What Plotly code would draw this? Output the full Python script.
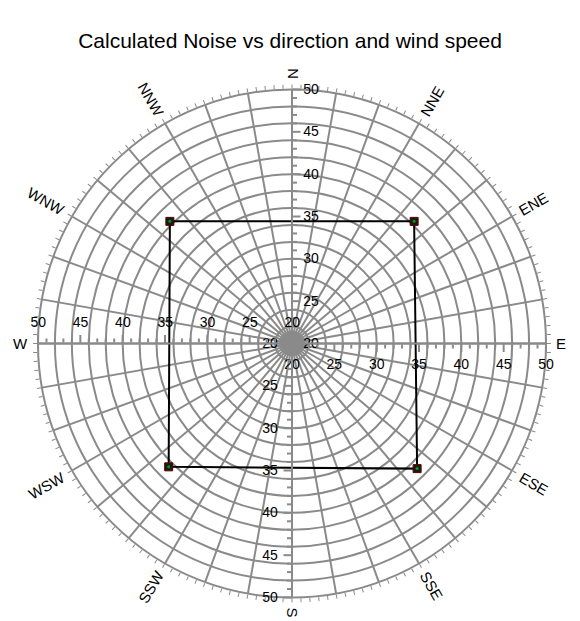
import math
import plotly.graph_objects as go

# ---------------- data ----------------
title_text = "Calculated Noise vs direction and wind speed"
directions = ["N", "NNE", "ENE", "E", "ESE", "SSE", "S", "SSW", "WSW", "W", "WNW", "NNW"]
direction_angles = [0, 30, 60, 90, 120, 150, 180, 210, 240, 270, 300, 330]
noise_theta = [45, 135, 225, 315, 45]
noise_r = [40.4, 40.9, 40.6, 40.4, 40.4]
r_min, r_max = 20, 50
ring_values = list(range(22, 51, 2))
minor_ticks = [v for v in range(20, 51) if v % 5 != 0]
major_ticks = list(range(20, 51, 5))
major_labels = [str(v) for v in major_ticks]
spoke_angles = list(range(0, 360, 10))
angular_ticks = list(range(0, 360, 2))
axis_angles = [90, 0, 270, 180]   # N, E, S, W radial axes

# ---------------- geometry ----------------
OFF = 8                      # page body margin in the browser
W, H = 580 - OFF, 621 - OFF  # figure size so it ends at the window edge
cx, cy, R = 292 - OFF, 343.5 - OFF, 254
GRID = "#8a8a8a"
FONT = "Liberation Sans, Arial, sans-serif"
# label nudges (px) per axis angle to match the reference label placement
label_nudge = {90: (0, 0), 0: (0, 0), 270: (0, 0), 180: (8, -5)}


def domain(dx=0.0, dy=0.0):
    x0, y0 = cx + dx, cy + dy
    return dict(x=[(x0 - R) / W, (x0 + R) / W],
                y=[1 - (y0 + R) / H, 1 - (y0 - R) / H])


fig = go.Figure()

# spokes
sr, st = [], []
for a in spoke_angles:
    sr += [r_min, r_max, None]
    st += [a, a, None]
fig.add_trace(go.Scatterpolar(r=sr, theta=st, mode="lines",
                              line=dict(color=GRID, width=2),
                              hoverinfo="skip", showlegend=False, subplot="polar"))

# central dense hub
hub_theta = list(range(0, 361, 5))
fig.add_trace(go.Scatterpolar(r=[21.45] * len(hub_theta), theta=hub_theta, mode="lines",
                              fill="toself", fillcolor=GRID, line=dict(color=GRID, width=1),
                              hoverinfo="skip", showlegend=False, subplot="polar"))

# data
fig.add_trace(go.Scatterpolar(r=noise_r, theta=noise_theta, mode="lines",
                              line=dict(color="black", width=2),
                              showlegend=False, subplot="polar"))
fig.add_trace(go.Scatterpolar(r=noise_r[:-1], theta=noise_theta[:-1], mode="markers",
                              marker=dict(symbol="square", size=8, color="#1a1a1a",
                                          line=dict(color="#5a0000", width=1)),
                              showlegend=False, subplot="polar"))
fig.add_trace(go.Scatterpolar(r=noise_r[:-1], theta=noise_theta[:-1], mode="markers",
                              marker=dict(symbol="circle", size=3, color="#00a000"),
                              showlegend=False, subplot="polar"))

# dummy traces for overlay axes
for i in range(2, 14):
    fig.add_trace(go.Scatterpolar(r=[r_min], theta=[0], mode="markers",
                                  marker=dict(opacity=0), hoverinfo="skip",
                                  showlegend=False, subplot=f"polar{i}"))

layout = dict(
    width=W, height=H,
    margin=dict(l=0, r=0, t=0, b=0),
    paper_bgcolor="white",
    showlegend=False,
    title=dict(text=title_text, x=(290 - OFF) / W, xanchor="center",
               y=1 - (41 - OFF) / H, yanchor="middle",
               yref="container", font=dict(family=FONT, size=21, color="black")),
    polar=dict(
        domain=domain(),
        bgcolor="white",
        angularaxis=dict(rotation=90, direction="clockwise",
                         tickmode="array", tickvals=angular_ticks,
                         ticktext=[""] * len(angular_ticks),
                         ticks="outside", ticklen=4, tickwidth=1, tickcolor=GRID,
                         showgrid=False, showline=True, linecolor=GRID, linewidth=2),
        radialaxis=dict(range=[r_min, r_max], tickmode="array", tickvals=ring_values,
                        showticklabels=False, ticks="", showline=False,
                        showgrid=True, gridcolor=GRID, gridwidth=2),
    ),
)


def overlay_angular():
    return dict(rotation=90, direction="clockwise", showline=False,
                showgrid=False, showticklabels=False, ticks="")


idx = 2
for ang in axis_angles:
    # minor ticks + axis line
    layout[f"polar{idx}"] = dict(
        domain=domain(), bgcolor="rgba(0,0,0,0)", angularaxis=overlay_angular(),
        radialaxis=dict(range=[r_min, r_max], angle=ang, side="clockwise",
                        tickmode="array", tickvals=minor_ticks, showticklabels=False,
                        ticks="outside", ticklen=4, tickwidth=1.5, tickcolor=GRID,
                        showline=True, linecolor=GRID, linewidth=2, showgrid=False))
    idx += 1
    # major ticks
    layout[f"polar{idx}"] = dict(
        domain=domain(), bgcolor="rgba(0,0,0,0)", angularaxis=overlay_angular(),
        radialaxis=dict(range=[r_min, r_max], angle=ang, side="clockwise",
                        tickmode="array", tickvals=major_ticks, showticklabels=False,
                        ticks="outside", ticklen=8, tickwidth=1.5, tickcolor=GRID,
                        showline=False, showgrid=False))
    idx += 1
    # labels
    ndx, ndy = label_nudge[ang]
    layout[f"polar{idx}"] = dict(
        domain=domain(ndx, ndy), bgcolor="rgba(0,0,0,0)", angularaxis=overlay_angular(),
        radialaxis=dict(range=[r_min, r_max], angle=ang, side="clockwise",
                        tickmode="array", tickvals=major_ticks, ticktext=major_labels,
                        ticks="outside", ticklen=8, tickwidth=1, tickcolor="rgba(0,0,0,0)",
                        showline=False, showgrid=False,
                        tickangle=ang if ang <= 180 else ang - 360,
                        tickfont=dict(family=FONT, size=14, color="black")))
    idx += 1

# direction labels (radially rotated)
cw = {"N": 0.722, "E": 0.667, "S": 0.667, "W": 0.944}
fs = 15
annotations = []
for lab, th in zip(directions, direction_angles):
    half = sum(cw[c] for c in lab) * fs / 2
    d = R + 10 + half
    px = cx + d * math.sin(math.radians(th))
    py = cy - d * math.cos(math.radians(th))
    rot = th - 90 if th <= 180 else th - 270
    annotations.append(dict(text=lab, x=px / W, y=1 - py / H, xref="paper", yref="paper",
                            xanchor="center", yanchor="middle", showarrow=False,
                            textangle=rot, font=dict(family=FONT, size=fs, color="black")))
layout["annotations"] = annotations

fig.update_layout(**layout)
fig.write_html("out.html")
